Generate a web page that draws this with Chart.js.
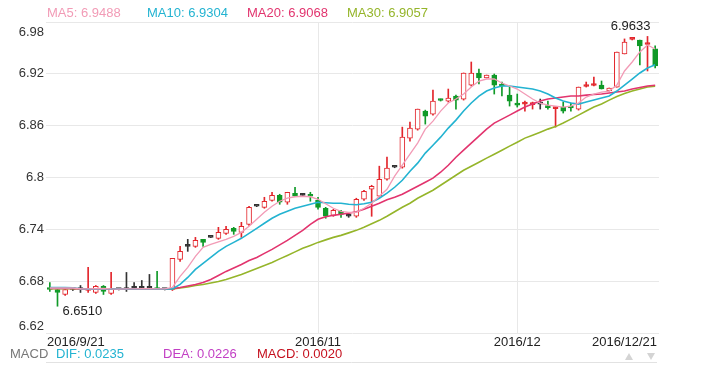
<!DOCTYPE html>
<html>
<head>
<meta charset="utf-8">
<script src="https://cdn.jsdelivr.net/npm/chart.js@4.4.1/dist/chart.umd.min.js"></script>
<style>
  html, body { margin: 0; padding: 0; background: #fff; }
  canvas { display: block; }
</style>
</head>
<body>
<canvas id="kline" width="709" height="365"></canvas>
<script>
// daily candles, 2016/9/21 .. 2016/12/21
const opens = [6.6716, 6.6704, 6.6646, 6.6704, 6.6704, 6.6692, 6.6669, 6.6739, 6.6658, 6.6704,
    6.6704, 6.6716, 6.6716, 6.6716, 6.6716, 6.6704, 6.6704, 6.7052, 6.7203, 6.7203,
    6.7284, 6.7307, 6.7296, 6.7354, 6.7412, 6.7365, 6.7458, 6.7667, 6.7655, 6.7736,
    6.7794, 6.7713, 6.7818, 6.7794, 6.7794, 6.7736, 6.7644, 6.7562, 6.7609, 6.7551,
    6.7551, 6.7748, 6.7864, 6.7783, 6.7980, 6.8119, 6.8119, 6.8456, 6.8560, 6.8769,
    6.8734, 6.8902, 6.8885, 6.8943, 6.8908, 6.9070, 6.9210, 6.9152, 6.9186, 6.9082,
    6.8954, 6.8862, 6.8850, 6.8844, 6.8850, 6.8821, 6.8798, 6.8815, 6.8815, 6.8792,
    6.9053, 6.9065, 6.9070, 6.9001, 6.9047, 6.9430, 6.9598, 6.9592, 6.9540, 6.9488];
const highs = [6.6785, 6.6716, 6.6716, 6.6716, 6.6750, 6.6959, 6.6750, 6.6750, 6.6901, 6.6710,
    6.6901, 6.6785, 6.6808, 6.6878, 6.6913, 6.6710, 6.7064, 6.7203, 6.7284, 6.7307,
    6.7284, 6.7310, 6.7423, 6.7435, 6.7423, 6.7481, 6.7667, 6.7672, 6.7771, 6.7829,
    6.7806, 6.7829, 6.7887, 6.7806, 6.7829, 6.7771, 6.7655, 6.7632, 6.7620, 6.7562,
    6.7760, 6.7852, 6.7910, 6.8131, 6.8235, 6.8125, 6.8583, 6.8641, 6.8792, 6.8780,
    6.9012, 6.8908, 6.9024, 6.8954, 6.9210, 6.9337, 6.9256, 6.9186, 6.9198, 6.9105,
    6.9047, 6.8966, 6.8885, 6.8873, 6.8908, 6.8885, 6.8815, 6.8873, 6.8862, 6.9047,
    6.9105, 6.9163, 6.9117, 6.9036, 6.9453, 6.9604, 6.9604, 6.9592, 6.9633, 6.9523];
const lows = [6.6681, 6.6510, 6.6634, 6.6692, 6.6669, 6.6669, 6.6658, 6.6646, 6.6646, 6.6698,
    6.6681, 6.6704, 6.6704, 6.6704, 6.6704, 6.6698, 6.6692, 6.7029, 6.7145, 6.7191,
    6.7203, 6.7304, 6.7284, 6.7342, 6.7342, 6.7307, 6.7446, 6.7662, 6.7644, 6.7725,
    6.7690, 6.7690, 6.7783, 6.7783, 6.7725, 6.7632, 6.7528, 6.7551, 6.7539, 6.7539,
    6.7539, 6.7736, 6.7551, 6.7771, 6.7968, 6.8113, 6.8108, 6.8421, 6.8548, 6.8618,
    6.8722, 6.8885, 6.8873, 6.8792, 6.8896, 6.9059, 6.9082, 6.9152, 6.8966, 6.8943,
    6.8827, 6.8815, 6.8769, 6.8792, 6.8792, 6.8792, 6.8583, 6.8746, 6.8769, 6.8780,
    6.9047, 6.9059, 6.9024, 6.9001, 6.9047, 6.9430, 6.9592, 6.9302, 6.9233, 6.9268];
const closes = [6.6704, 6.6669, 6.6704, 6.6704, 6.6704, 6.6716, 6.6739, 6.6681, 6.6716, 6.6704,
    6.6704, 6.6716, 6.6716, 6.6716, 6.6704, 6.6704, 6.7064, 6.7145, 6.7203, 6.7272,
    6.7249, 6.7307, 6.7365, 6.7400, 6.7377, 6.7435, 6.7655, 6.7667, 6.7725, 6.7794,
    6.7713, 6.7829, 6.7783, 6.7794, 6.7783, 6.7655, 6.7551, 6.7620, 6.7574, 6.7551,
    6.7748, 6.7841, 6.7899, 6.7980, 6.8108, 6.8119, 6.8467, 6.8572, 6.8792, 6.8711,
    6.8885, 6.8891, 6.8920, 6.8896, 6.9210, 6.9210, 6.9152, 6.9186, 6.9070, 6.9059,
    6.8885, 6.8838, 6.8862, 6.8850, 6.8850, 6.8809, 6.8804, 6.8769, 6.8804, 6.9047,
    6.9059, 6.9070, 6.9024, 6.9036, 6.9453, 6.9569, 6.9604, 6.9523, 6.9546, 6.9291];

// moving averages
const ma5 = [6.6721, 6.6721, 6.6721, 6.6721, 6.6712, 6.6710, 6.6712, 6.6715, 6.6711, 6.6709,
    6.6710, 6.6711, 6.6713, 6.6712, 6.6710, 6.6711, 6.6727, 6.6855, 6.6959, 6.7087,
    6.7191, 6.7226, 6.7255, 6.7284, 6.7319, 6.7365, 6.7435, 6.7516, 6.7597, 6.7667,
    6.7725, 6.7760, 6.7777, 6.7783, 6.7777, 6.7748, 6.7696, 6.7644, 6.7609, 6.7597,
    6.7597, 6.7644, 6.7702, 6.7783, 6.7864, 6.8015, 6.8142, 6.8270, 6.8398, 6.8560,
    6.8653, 6.8769, 6.8862, 6.8908, 6.8966, 6.9047, 6.9117, 6.9140, 6.9140, 6.9094,
    6.9059, 6.9024, 6.8966, 6.8908, 6.8862, 6.8838, 6.8827, 6.8815, 6.8827, 6.8862,
    6.8931, 6.8966, 6.8989, 6.9001, 6.9070, 6.9233, 6.9337, 6.9453, 6.9534, 6.9488];
const ma10 = [6.6727, 6.6727, 6.6727, 6.6724, 6.6712, 6.6710, 6.6710, 6.6711, 6.6710, 6.6709,
    6.6710, 6.6710, 6.6711, 6.6710, 6.6710, 6.6710, 6.6711, 6.6762, 6.6843, 6.6936,
    6.7006, 6.7075, 6.7145, 6.7203, 6.7249, 6.7296, 6.7354, 6.7412, 6.7470, 6.7528,
    6.7574, 6.7609, 6.7644, 6.7667, 6.7690, 6.7713, 6.7707, 6.7702, 6.7702, 6.7690,
    6.7684, 6.7696, 6.7713, 6.7760, 6.7818, 6.7887, 6.7968, 6.8073, 6.8166, 6.8282,
    6.8374, 6.8467, 6.8572, 6.8664, 6.8769, 6.8862, 6.8943, 6.9001, 6.9036, 6.9059,
    6.9059, 6.9047, 6.9036, 6.9024, 6.9001, 6.8966, 6.8920, 6.8885, 6.8862, 6.8850,
    6.8873, 6.8896, 6.8920, 6.8943, 6.9001, 6.9070, 6.9140, 6.9210, 6.9268, 6.9304];
const ma20 = [6.6716, 6.6716, 6.6716, 6.6715, 6.6710, 6.6710, 6.6709, 6.6710, 6.6710, 6.6709,
    6.6709, 6.6710, 6.6710, 6.6710, 6.6709, 6.6710, 6.6712, 6.6727, 6.6745, 6.6762,
    6.6785, 6.6820, 6.6866, 6.6913, 6.6953, 6.6994, 6.7040, 6.7075, 6.7122, 6.7168,
    6.7220, 6.7272, 6.7330, 6.7388, 6.7458, 6.7516, 6.7545, 6.7562, 6.7574, 6.7586,
    6.7603, 6.7632, 6.7667, 6.7702, 6.7742, 6.7771, 6.7806, 6.7852, 6.7899, 6.7945,
    6.7992, 6.8061, 6.8142, 6.8235, 6.8316, 6.8398, 6.8479, 6.8560, 6.8630, 6.8676,
    6.8722, 6.8769, 6.8815, 6.8850, 6.8885, 6.8908, 6.8920, 6.8931, 6.8943, 6.8943,
    6.8954, 6.8960, 6.8966, 6.8978, 6.8989, 6.9001, 6.9024, 6.9041, 6.9059, 6.9068];
const ma30 = [6.6714, 6.6714, 6.6714, 6.6713, 6.6709, 6.6709, 6.6709, 6.6709, 6.6709, 6.6709,
    6.6709, 6.6709, 6.6709, 6.6709, 6.6709, 6.6709, 6.6710, 6.6721, 6.6733, 6.6750,
    6.6762, 6.6779, 6.6797, 6.6820, 6.6849, 6.6878, 6.6913, 6.6948, 6.6982, 6.7017,
    6.7058, 6.7098, 6.7139, 6.7180, 6.7214, 6.7249, 6.7278, 6.7307, 6.7330, 6.7359,
    6.7388, 6.7423, 6.7464, 6.7504, 6.7551, 6.7603, 6.7655, 6.7702, 6.7760, 6.7806,
    6.7852, 6.7910, 6.7968, 6.8026, 6.8084, 6.8131, 6.8177, 6.8224, 6.8270, 6.8316,
    6.8363, 6.8409, 6.8456, 6.8490, 6.8525, 6.8560, 6.8589, 6.8630, 6.8676, 6.8722,
    6.8769, 6.8815, 6.8850, 6.8896, 6.8937, 6.8972, 6.9001, 6.9024, 6.9047, 6.9057];

const tickIndex = [0, 35, 61, 79];
const tickText = ['2016/9/21', '2016/11', '2016/12', '2016/12/21'];
const maNames = ['MA5', 'MA10', 'MA20', 'MA30'];
const macdNames = ['DIF', 'DEA', 'MACD'];
const macdValues = [0.0235, 0.0226, 0.0020];

const RED = '#e3262c';
const GREEN = '#109a28';
const DOJI = '#333333';
const GRID = '#e8e8e8';
const maColors = ['#f29bb6', '#23b3d1', '#e2346e', '#95b52a'];
const macdColors = ['#22b3d1', '#c23fc4', '#c5101e'];
const FONT = '13px "Liberation Sans", Arial, sans-serif';

const categories = closes.map((c, i) => i);

function candleColor(i) {
    if (closes[i] > opens[i]) return RED;
    if (closes[i] < opens[i]) return GREEN;
    return DOJI;
}

function bodyFill(i) {
    const d = closes[i] - opens[i];
    if (Math.abs(d) < 0.0015) return candleColor(i);
    return d > 0 ? '#ffffff' : GREEN;
}

const textPlugin = {
    id: 'klineText',
    afterDraw(chart) {
        const ctx = chart.ctx;
        const area = chart.chartArea;
        const xs = chart.scales.x;
        const ys = chart.scales.y;
        ctx.save();
        ctx.font = FONT;

        // y labels
        ctx.fillStyle = '#333';
        ctx.textAlign = 'right';
        ctx.textBaseline = 'middle';
        ys.ticks.forEach((t, k) => {
            const py = ys.getPixelForValue(t.value);
            let off = 0;
            if (k === ys.ticks.length - 1) off = 10;
            if (k === 0) off = -7;
            ctx.fillText(String(parseFloat(t.value.toFixed(2))), area.left - 2, py + off);
        });

        // x labels
        ctx.fillStyle = '#222';
        tickIndex.forEach((idx, k) => {
            const px = xs.getPixelForValue(idx);
            if (k === 0) { ctx.textAlign = 'left'; ctx.fillText(tickText[k], area.left + 1, area.bottom + 9); }
            else if (k === tickIndex.length - 1) { ctx.textAlign = 'right'; ctx.fillText(tickText[k], area.right - 2, area.bottom + 9); }
            else { ctx.textAlign = 'center'; ctx.fillText(tickText[k], px, area.bottom + 9); }
        });

        // MA legend
        ctx.textAlign = 'left';
        [ma5, ma10, ma20, ma30].forEach((arr, k) => {
            ctx.fillStyle = maColors[k];
            ctx.fillText(maNames[k] + ': ' + arr[arr.length - 1].toFixed(4), 47 + k * 100, 13.5);
        });

        // highest / lowest marks
        let hi = 0, lo = 0;
        highs.forEach((v, i) => { if (v > highs[hi]) hi = i; });
        lows.forEach((v, i) => { if (v < lows[lo]) lo = i; });
        ctx.fillStyle = '#222';
        ctx.textAlign = 'right';
        ctx.fillText(highs[hi].toFixed(4), xs.getPixelForValue(hi) + 3, ys.getPixelForValue(highs[hi]) - 10);
        ctx.textAlign = 'left';
        ctx.fillText(lows[lo].toFixed(4), xs.getPixelForValue(lo) + 5, ys.getPixelForValue(lows[lo]) + 5);

        // MACD header
        ctx.fillStyle = '#777';
        ctx.fillText('MACD', 10, 354);
        const macdX = [56, 163, 257];
        macdNames.forEach((n, k) => {
            ctx.fillStyle = macdColors[k];
            ctx.fillText(n + ': ' + macdValues[k].toFixed(4), macdX[k], 354);
        });

        // sub panel border and zoom arrows
        ctx.strokeStyle = '#e2e2e2';
        ctx.lineWidth = 1;
        ctx.beginPath();
        ctx.moveTo(area.left, 362.5);
        ctx.lineTo(area.right - 2, 362.5);
        ctx.stroke();
        ctx.fillStyle = '#d4d4d4';
        ctx.beginPath();
        ctx.moveTo(629, 353); ctx.lineTo(633, 360); ctx.lineTo(625, 360); ctx.closePath();
        ctx.fill();
        ctx.beginPath();
        ctx.moveTo(647, 353); ctx.lineTo(655, 353); ctx.lineTo(651, 360); ctx.closePath();
        ctx.fill();
        ctx.restore();
    }
};

const lineSet = (arr, k) => ({
    type: 'line',
    data: arr,
    borderColor: maColors[k],
    borderWidth: k === 0 ? 1.3 : 1.6,
    pointRadius: 0,
    tension: 0,
    fill: false,
    order: 0
});

new Chart(document.getElementById('kline').getContext('2d'), {
    type: 'bar',
    data: {
        labels: categories,
        datasets: [
            lineSet(ma5, 0),
            lineSet(ma10, 1),
            lineSet(ma20, 2),
            lineSet(ma30, 3),
            {
                label: 'body',
                data: opens.map((o, i) => [o, closes[i]]),
                backgroundColor: c => bodyFill(c.dataIndex),
                borderColor: c => candleColor(c.dataIndex),
                borderWidth: 1,
                borderSkipped: false,
                barThickness: 5,
                minBarLength: 2,
                grouped: false,
                order: 1
            },
            {
                label: 'wick',
                data: lows.map((l, i) => [l, highs[i]]),
                backgroundColor: c => candleColor(c.dataIndex),
                barThickness: 1,
                grouped: false,
                order: 2
            }
        ]
    },
    options: {
        responsive: false,
        animation: false,
        devicePixelRatio: 1,
        layout: { padding: { left: 46, right: 50, top: 22, bottom: 32 } },
        plugins: {
            legend: { display: false },
            tooltip: { enabled: false }
        },
        scales: {
            x: {
                type: 'category',
                offset: true,
                border: { display: false },
                grid: {
                    offset: false,
                    drawTicks: false,
                    color: c => (tickIndex.slice(1, -1).includes(c.index) ? GRID : 'rgba(0,0,0,0)')
                },
                ticks: { display: false, autoSkip: false }
            },
            y: {
                min: 6.62,
                max: 6.98,
                border: { display: false },
                grid: { color: GRID, drawTicks: false },
                ticks: { display: false, stepSize: 0.06 }
            }
        }
    },
    plugins: [textPlugin]
});
</script>
</body>
</html>
